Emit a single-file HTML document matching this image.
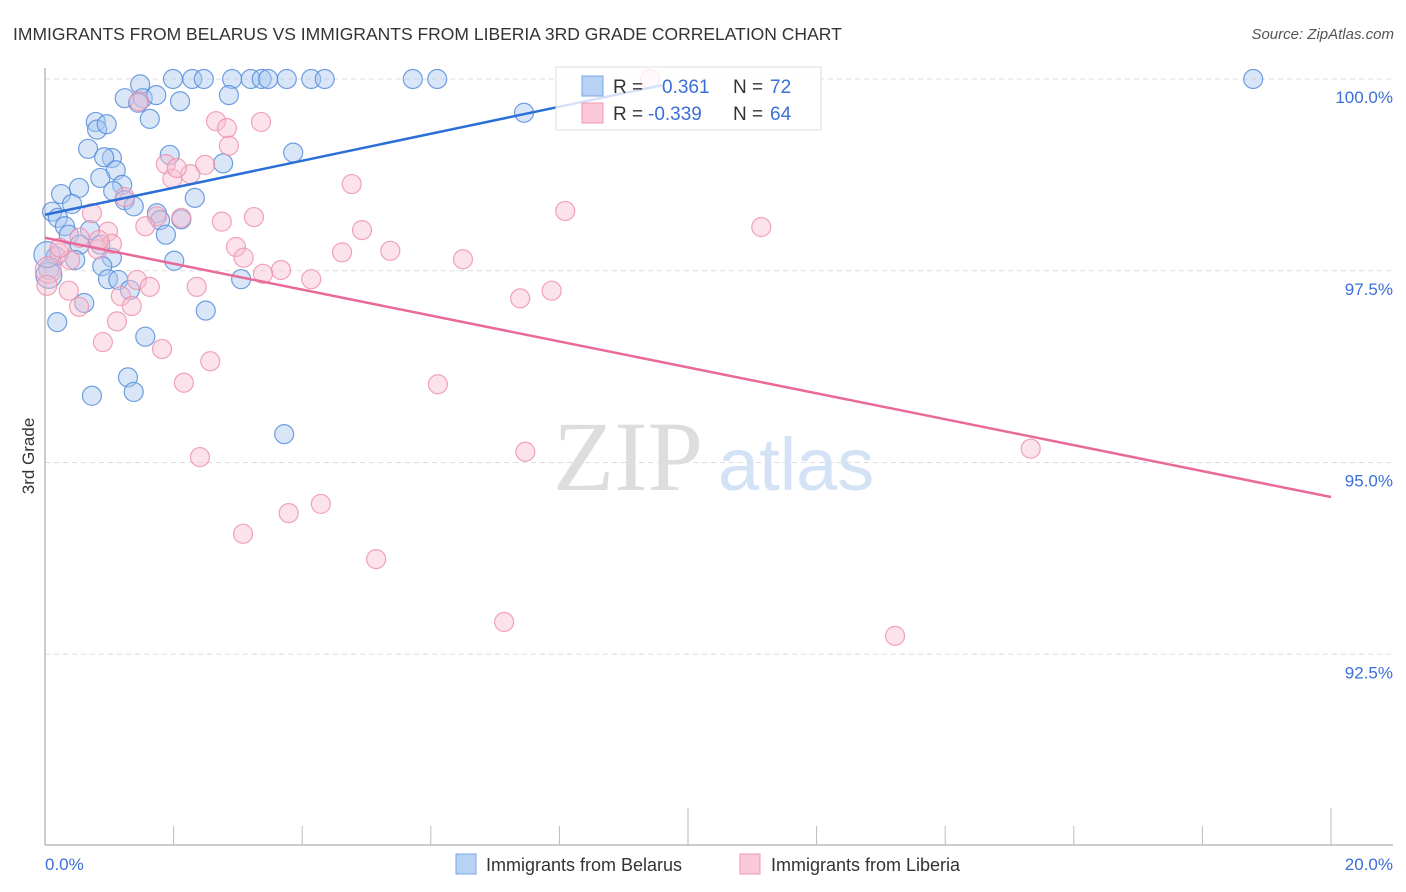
<!DOCTYPE html>
<html><head><meta charset="utf-8"><style>
body{margin:0;background:#fff;font-family:"Liberation Sans",sans-serif}
svg{display:block}
</style></head><body>
<svg id="chart" width="1406" height="892" viewBox="0 0 1406 892" xmlns="http://www.w3.org/2000/svg">
<text x="13" y="40" font-size="17.5" fill="#333">IMMIGRANTS FROM BELARUS VS IMMIGRANTS FROM LIBERIA 3RD GRADE CORRELATION CHART</text>
<text x="1394" y="39" font-size="15" fill="#555" font-style="italic" text-anchor="end">Source: ZipAtlas.com</text>
<text transform="translate(34,456) rotate(-90)" font-size="17" fill="#333" text-anchor="middle">3rd Grade</text>
<g><text x="553" y="490" font-size="100" fill="#ddd" font-family="Liberation Serif,serif">ZIP</text><text x="718" y="490" font-size="74" fill="#d4e2f6">atlas</text></g>
<g id="grid"></g><g id="axes"></g><g id="pts"></g><g id="lines"></g>
<g>
<rect x="556" y="67" width="265" height="63" fill="#fff" fill-opacity="0.8" stroke="#ddd"/>
<rect x="582" y="76" width="21" height="20" fill="#b8d2f5" stroke="#7aa6e6"/>
<rect x="582" y="103" width="21" height="20" fill="#fac8d6" stroke="#ef9ab3"/>
<text x="613" y="93" font-size="19" fill="#333">R = </text><text x="662" y="93" font-size="19" fill="#3a6fd8">0.361</text>
<text x="733" y="93" font-size="19" fill="#333">N = </text><text x="770" y="93" font-size="19" fill="#3a6fd8">72</text>
<text x="613" y="120" font-size="19" fill="#333">R = </text><text x="648" y="120" font-size="19" fill="#3a6fd8">-0.339</text>
<text x="733" y="120" font-size="19" fill="#333">N = </text><text x="770" y="120" font-size="19" fill="#3a6fd8">64</text>
</g>
<g>
<rect x="456" y="854" width="20" height="20" fill="#b8d2f5" stroke="#7aa6e6"/>
<text x="486" y="871" font-size="18" fill="#333">Immigrants from Belarus</text>
<rect x="740" y="854" width="20" height="20" fill="#fac8d6" stroke="#ef9ab3"/>
<text x="771" y="871" font-size="18" fill="#333">Immigrants from Liberia</text>
</g>
</svg>
<script>
const yTicks=[100,97.5,95,92.5];
const yTickLabels=["100.0%","97.5%","95.0%","92.5%"];
const xTickLabels=["0.0%","20.0%"];
const belarusX=[1.48,2.29,1.99,2.47,2.91,3.20,3.37,3.47,3.76,4.14,4.35,5.72,6.10,18.79,1.24,1.52,1.73,2.10,2.86,1.45,1.63,0.79,0.81,0.96,0.67,1.94,1.04,0.92,2.77,3.86,1.10,0.86,1.20,0.53,1.06,0.25,1.24,1.38,0.42,2.33,0.11,0.20,1.74,0.31,0.70,2.12,1.79,0.37,1.88,0.54,0.86,0.17,0.47,1.04,2.01,0.89,0.98,1.14,3.05,1.32,0.06,0.06,0.61,2.50,0.19,1.56,1.29,1.38,0.73,3.72,7.45,0.03];
const belarusY=[99.93,100,100,100,100,100,100,100,100,100,100,100,100,100,99.75,99.75,99.79,99.71,99.79,99.69,99.48,99.44,99.34,99.41,99.09,99.01,98.97,98.98,98.90,99.04,98.81,98.71,98.62,98.58,98.54,98.50,98.42,98.34,98.37,98.45,98.27,98.19,98.25,98.08,98.03,98.17,98.16,97.97,97.97,97.84,97.84,97.69,97.64,97.67,97.63,97.56,97.39,97.38,97.39,97.25,97.52,97.44,97.08,96.98,96.83,96.64,96.11,95.92,95.87,95.37,99.56,97.71];
const liberiaX=[9.41,1.46,2.66,2.83,3.36,2.86,1.88,1.98,2.26,2.49,2.05,4.77,8.09,11.14,0.73,1.24,1.74,1.56,2.12,2.75,3.25,4.93,0.98,0.54,2.97,1.04,0.82,4.62,5.37,6.50,3.09,0.22,3.67,3.39,4.14,1.43,0.39,0.05,0.03,0.37,1.63,2.36,1.18,7.39,7.88,0.53,1.35,1.12,0.90,1.82,2.57,2.16,6.11,7.47,15.33,2.41,4.29,3.79,3.08,5.15,7.14,13.22,0.84,0.23];
const liberiaY=[100,99.71,99.45,99.36,99.44,99.13,98.89,98.70,98.76,98.88,98.84,98.63,98.28,98.07,98.25,98.46,98.21,98.08,98.19,98.14,98.20,98.03,98.01,97.93,97.81,97.85,97.78,97.74,97.76,97.65,97.67,97.73,97.51,97.46,97.39,97.38,97.64,97.51,97.31,97.24,97.29,97.29,97.17,97.14,97.24,97.03,97.04,96.84,96.57,96.48,96.32,96.04,96.02,95.14,95.18,95.07,94.46,94.34,94.07,93.74,92.92,92.74,97.90,97.80];
const belarusTrendX=[0,9.6];
const belarusTrendY=[98.23,99.92];
const liberiaTrendX=[0,20];
const liberiaTrendY=[97.93,94.55];
const NS="http://www.w3.org/2000/svg";
const sx=v=>45+v*64.3;
const sy=v=>79+(100-v)*76.7;
function mk(tag,attrs,parent){const e=document.createElementNS(NS,tag);for(const k in attrs)e.setAttribute(k,attrs[k]);parent.appendChild(e);return e;}
const grid=document.getElementById('grid'),axes=document.getElementById('axes'),pts=document.getElementById('pts'),lines=document.getElementById('lines');
yTicks.forEach((t,i)=>{
 const l=mk('line',{x1:45,x2:1393,y1:sy(t),y2:sy(t),stroke:'#ddd','stroke-dasharray':'5,4'},grid);
 
 
 const tx=mk('text',{x:1393,y:sy(t)+24,'font-size':17,fill:'#3a6fd8','text-anchor':'end'},axes);
 tx.textContent=yTickLabels[i];
 
 
});
const ya=mk('line',{x1:45,x2:45,y1:68,y2:845,stroke:'#bbb','stroke-width':1.5},axes);


const xa=mk('line',{x1:45,x2:1393,y1:845,y2:845,stroke:'#bbb','stroke-width':1.5},axes);


for(let i=0;i<=10;i++){
 const tk=mk('line',{x1:sx(i*2),x2:sx(i*2),y1:(i==5||i==10)?808:826,y2:845,stroke:'#bbb'},axes);
 
 
}
[[0,'start'],[20,'end']].forEach((p,i)=>{
 const tx=mk('text',{x:i?1393:45,y:870,'font-size':17,fill:'#3a6fd8','text-anchor':p[1]},axes);
 tx.textContent=xTickLabels[i];
 
 
});
function series(X,Y,fill,stroke,name){
 X.forEach((x,i)=>{
  const r=x<0.1?(i%2?13:10):9.5;
  const c=mk('circle',{cx:sx(x),cy:sy(Y[i]),r:r,fill:fill,'fill-opacity':0.45,stroke:stroke,'stroke-opacity':0.8,'stroke-width':1.2},pts);
  
  
 });
}
series(belarusX,belarusY,'#a9c8f0','#4f88da','belarus-point');
series(liberiaX,liberiaY,'#f8bfd0','#ec8fab','liberia-point');
const bl=mk('line',{x1:sx(belarusTrendX[0]),y1:sy(belarusTrendY[0]),x2:sx(belarusTrendX[1]),y2:sy(belarusTrendY[1]),stroke:'#2a6fd6','stroke-width':2.5},lines);


const ll=mk('line',{x1:sx(liberiaTrendX[0]),y1:sy(liberiaTrendY[0]),x2:sx(liberiaTrendX[1]),y2:sy(liberiaTrendY[1]),stroke:'#e8699a','stroke-width':2.5},lines);


</script>
</body></html>
